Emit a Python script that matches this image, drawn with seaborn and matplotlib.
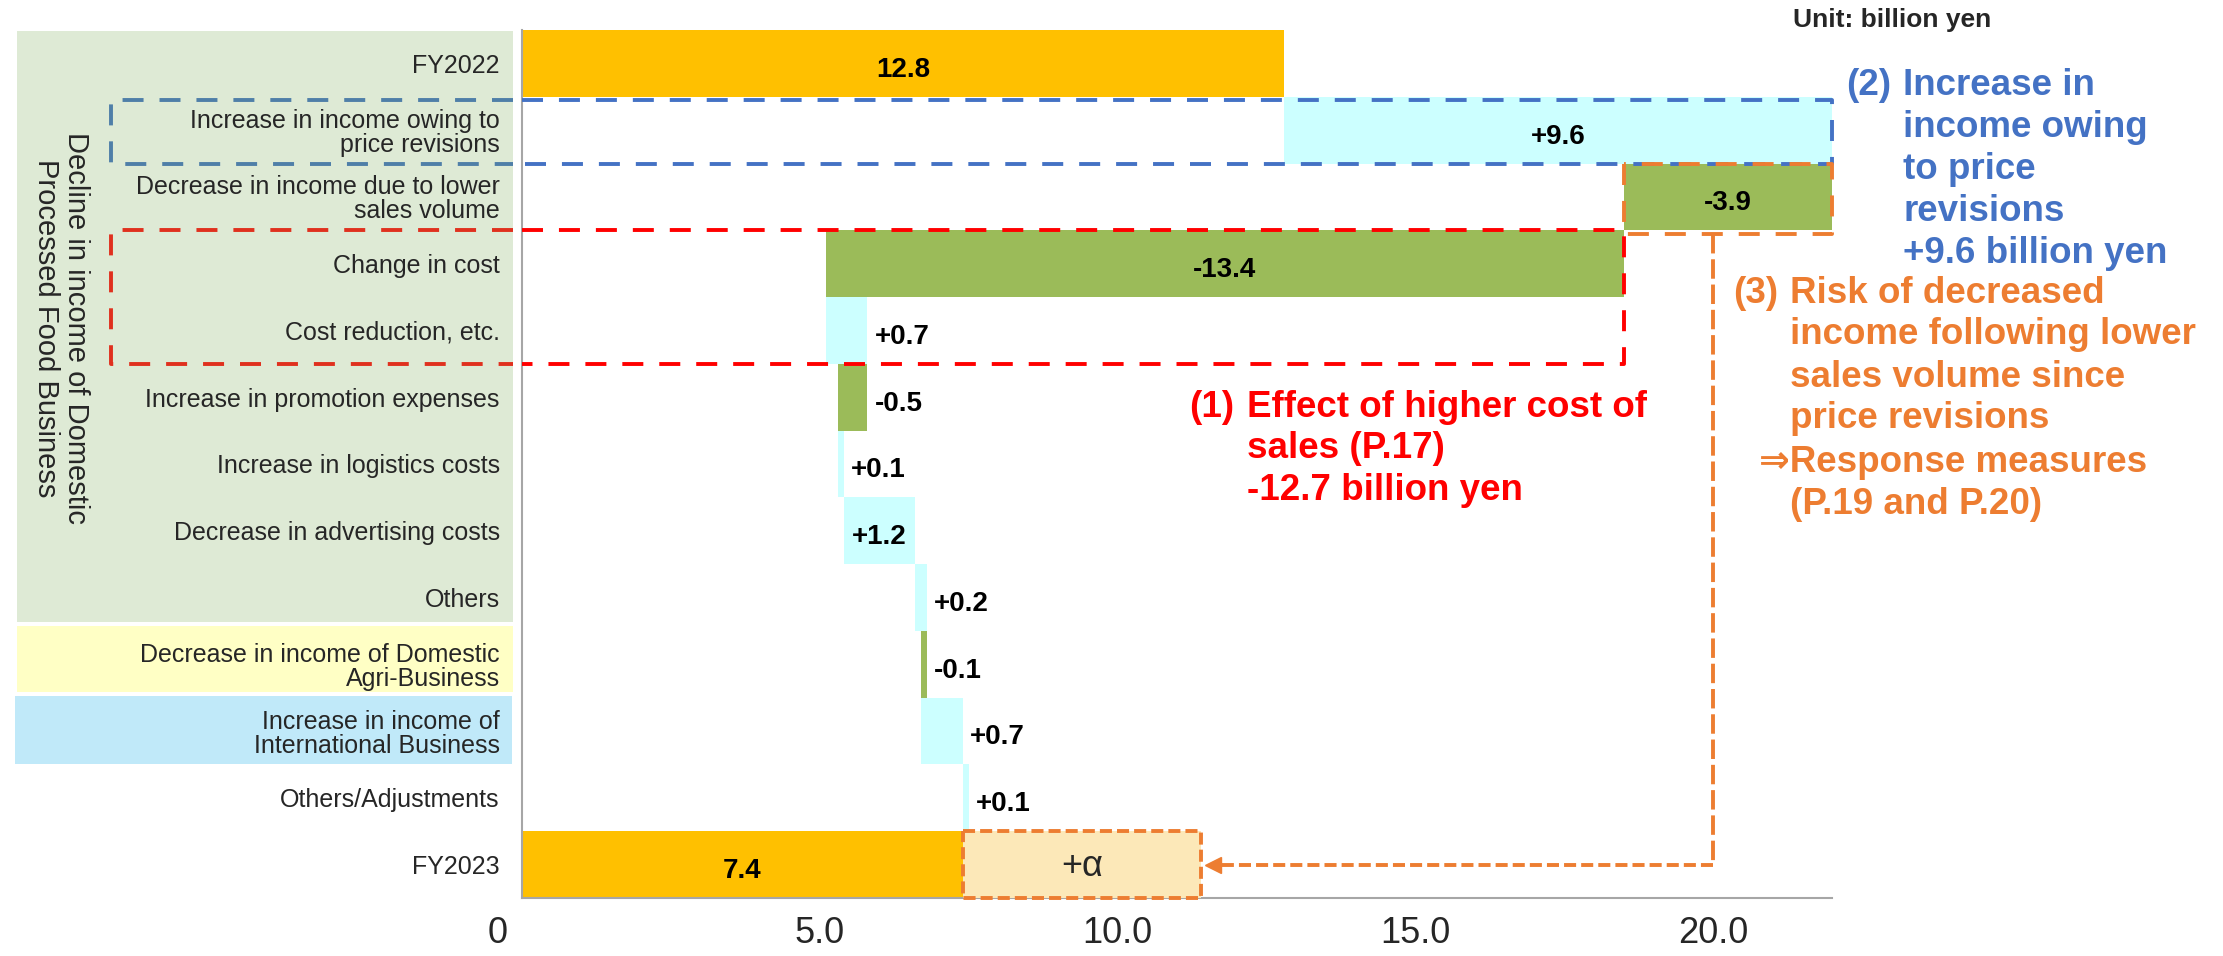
import matplotlib
matplotlib.use("Agg")
import matplotlib.pyplot as plt
import matplotlib.transforms as mtransforms
from matplotlib.patches import Rectangle
import numpy as np
import seaborn as sns

# rows of the waterfall, top to bottom
labels = ["FY2022",
          "Increase in income owing to\nprice revisions",
          "Decrease in income due to lower\nsales volume",
          "Change in cost",
          "Cost reduction, etc.",
          "Increase in promotion expenses",
          "Increase in logistics costs",
          "Decrease in advertising costs",
          "Others",
          "Decrease in income of Domestic\nAgri-Business",
          "Increase in income of\nInternational Business",
          "Others/Adjustments",
          "FY2023"]
total_labels = ["FY2022", "FY2023"]
total_values = [12.8, 7.4]
step_values = [9.6, -3.9, -13.4, 0.7, -0.5, 0.1, 1.2, 0.2, -0.1, 0.7, 0.1]
x_ticks = [0, 5, 10, 15, 20]
x_ticklabels = ["0", "5.0", "10.0", "15.0", "20.0"]
x_max = 22
alpha_span = [7.4, 11.4]   # the "+α" box on the FY2023 row

ORANGE = "#FFC000"
CYAN = "#CCFFFF"
GREEN = "#9BBB59"
LINE_ORANGE = "#ED7D31"
BLUE_TXT = "#4472C4"

sns.set_style("white")
plt.rcParams["font.family"] = ["Liberation Sans", "DejaVu Sans"]

W, H = 2223, 956
fig = plt.figure(figsize=(W / 100, H / 100), dpi=100)
ax = fig.add_axes([522 / W, 1 - 898 / H, 1310 / W, 868 / H])
ax.patch.set_visible(False)

# transform: x in figure pixels (from left), y in figure pixels (from top)
trans_px = mtransforms.Affine2D().scale(1 / W, -1 / H).translate(0, 1) + fig.transFigure
px_rows = mtransforms.blended_transform_factory(trans_px, ax.transData)

# totals with seaborn, floating steps with barh
sns.barplot(x=total_values, y=total_labels, order=labels, orient="h",
            color=ORANGE, saturation=1, width=1.0, linewidth=0, ax=ax)

starts = total_values[0] + np.concatenate([[0], np.cumsum(step_values)[:-1]])
lab_kw = dict(fontsize=20, fontweight="bold", color="black", va="baseline")
for i, (s, v) in enumerate(zip(starts, step_values), start=1):
    ax.barh(i, v, left=s, height=1.0, color=CYAN if v > 0 else GREEN, linewidth=0)
    lo, hi = min(s, s + v), max(s, s + v)
    txt = f"{v:+.1f}"
    if abs(v) >= 1:
        ax.text((lo + min(hi, x_max)) / 2, i + 0.2, txt, ha="center", **lab_kw)
    else:
        ax.text(hi + 0.12, i + 0.2, txt, ha="left", **lab_kw)

for lab, v in zip(total_labels, total_values):
    ax.text(v / 2, labels.index(lab) + 0.2, f"{v:.1f}", ha="center", **lab_kw)

ax.set_xlim(0, x_max)
ax.set_ylim(12.5, -0.5)
ax.set_xlabel("")
ax.set_ylabel("")
ax.set_xticks(x_ticks, labels=x_ticklabels)
ax.tick_params(axis="x", length=7, width=1.2, color="#A6A6A6", labelsize=26, pad=6)
ax.tick_params(axis="y", length=0, labelsize=18, pad=16)
for t in ax.get_yticklabels():
    t.set_linespacing(1.0)
# the "0" label sits a little left of the axis
zero_lbl = ax.get_xticklabels()[0]
zero_lbl.set_transform(zero_lbl.get_transform()
                       + mtransforms.ScaledTranslation(-0.24, 0, fig.dpi_scale_trans))
for side in ["top", "right"]:
    ax.spines[side].set_visible(False)
for side in ["left", "bottom"]:
    ax.spines[side].set_color("#A6A6A6")
    ax.spines[side].set_linewidth(1.5)

# coloured label panels on the left
panels = [(17, 496, -0.48, 8.36, "#DEEAD5"),
          (17, 496, 8.42, 9.42, "#FFFFC5"),
          (15, 497, 9.48, 10.49, "#C0E9F9")]
for x0, w, y0, y1, c in panels:
    ax.add_patch(Rectangle((x0, y0), w, y1 - y0, transform=px_rows, facecolor=c,
                           edgecolor="none", zorder=0, clip_on=False))

fig.text(61 / W, 1 - 328 / H, "Decline in income of Domestic\nProcessed Food Business",
         rotation=-90, ha="center", va="center", fontsize=21, linespacing=1.05)

# dashed call-out boxes
box_kw = dict(lw=2.8, linestyle=(0, (5.4, 4.1)), clip_on=False, zorder=5)
ax.plot([513, 111, 111, 513], [0.55, 0.55, 1.5, 1.5], transform=px_rows, color="#4F7FA8", **box_kw)
ax.plot([0, x_max, x_max, 0], [0.55, 0.55, 1.5, 1.5], color="#4472C4", **box_kw)
ax.plot([513, 111, 111, 513], [2.5, 2.5, 4.5, 4.5], transform=px_rows, color="#E0301E", **box_kw)
ax.plot([0, 18.5, 18.5, 0], [2.5, 2.5, 4.5, 4.5], color="#FF0000", **box_kw)
ax.plot([18.5, 18.5, x_max, x_max, 18.5], [1.5, 2.55, 2.55, 1.5, 1.5], color=LINE_ORANGE, **box_kw)

# arrow from the risk box to the +alpha box
ax.plot([20, 20], [2.55, 12], color=LINE_ORANGE, lw=2.8, linestyle=(0, (5, 1.5)), clip_on=False, zorder=5)
ax.plot([20, 11.6], [12, 12], color=LINE_ORANGE, lw=2.8, linestyle=(0, (3.1, 1.3)), clip_on=False, zorder=5)
ax.plot([11.6], [12], marker="<", ms=12, color=LINE_ORANGE, zorder=6, clip_on=False)

ax.add_patch(Rectangle((alpha_span[0], 11.5), alpha_span[1] - alpha_span[0], 1.0,
                       facecolor="#FCE8B8", edgecolor=LINE_ORANGE, lw=2.8,
                       linestyle=(0, (3.1, 1.3)), zorder=4, clip_on=False))
ax.text(sum(alpha_span) / 2, 12.17, "+α", ha="center", va="baseline", fontsize=26, zorder=6)

# annotations (pixel positions, baselines)
def px_text(x, y, s, **kw):
    fig.text(x / W, 1 - y / H, s, va="baseline", **kw)

ann = dict(fontsize=26.5, fontweight="bold")
px_text(1793, 27, "Unit: billion yen", fontsize=19, fontweight="bold")

px_text(1846, 95, "(2)", color=BLUE_TXT, **ann)
for k, line in enumerate(["Increase in", "income owing", "to price", "revisions", "+9.6 billion yen"]):
    px_text(1903, 95 + 42 * k, line, color=BLUE_TXT, **ann)

px_text(1733, 303, "(3)", color=LINE_ORANGE, **ann)
for y, line in zip([303, 344, 387, 428, 514],
                   ["Risk of decreased", "income following lower", "sales volume since",
                    "price revisions", "(P.19 and P.20)"]):
    px_text(1790, y, line, color=LINE_ORANGE, **ann)
px_text(1759, 472, "⇒Response measures", color=LINE_ORANGE, **ann)

px_text(1189, 417, "(1)", color="#FF0000", **ann)
for y, line in zip([417, 458, 500], ["Effect of higher cost of", "sales (P.17)", "-12.7 billion yen"]):
    px_text(1247, y, line, color="#FF0000", **ann)

fig.savefig("out.png", dpi=100)
